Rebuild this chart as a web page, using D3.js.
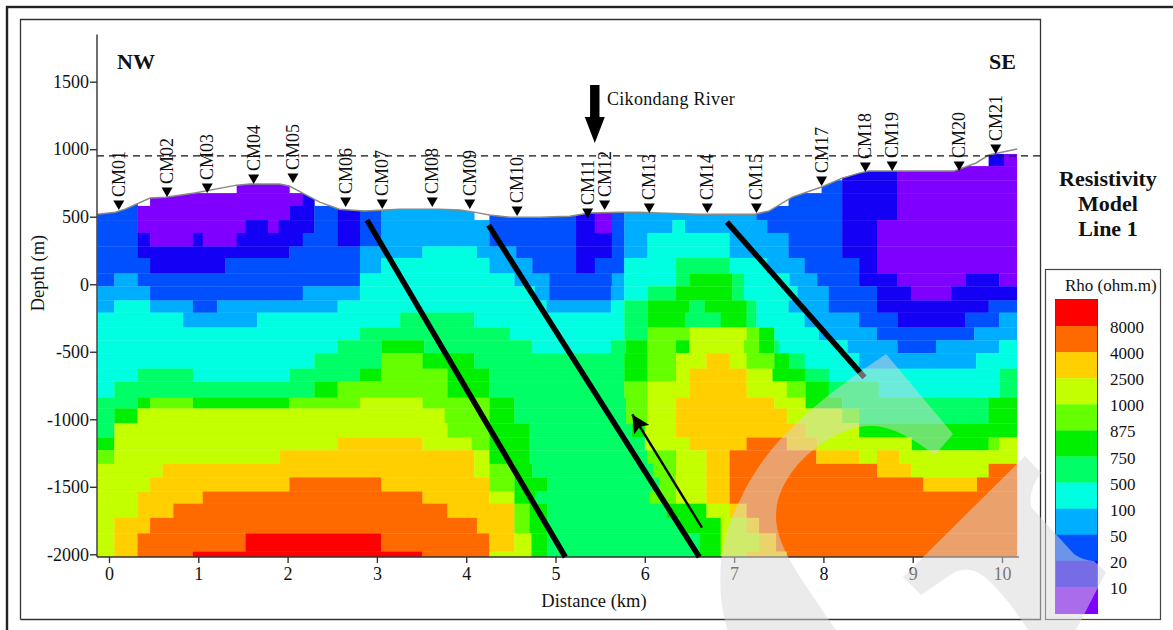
<!DOCTYPE html>
<html>
<head>
<meta charset="utf-8">
<script src="https://cdn.jsdelivr.net/npm/d3@7"></script>
<style>
  body { margin: 0; background: #fff; }
  svg { display: block; }
  text { font-family: "Liberation Serif", serif; fill: #111; }
</style>
</head>
<body>
<script>
// resistivity classes, low to high (legend runs top = high)
var classColors = ["#7f00ff", "#1400f5", "#0050ff", "#00aeff", "#00ffe0", "#00ff66", "#00f000", "#66ff00", "#c4ff00", "#ffcf00", "#ff6a00", "#ff0000"];
var rhoLabels = ["8000", "4000", "2500", "1000", "875", "750", "500", "100", "50", "20", "10"];

var depthTicks = [1500, 1000, 500, 0, -500, -1000, -1500, -2000];
var distanceTicks = [0, 1, 2, 3, 4, 5, 6, 7, 8, 9, 10];

// row edges of the model blocks (m)
var rowEdges = [965, 875, 770, 675, 580, 475, 380, 280, 195, 80, -15, -120, -210, -320, -415, -510, -625, -720, -840, -920, -1030, -1135, -1230, -1330, -1430, -1535, -1625, -1730, -1845, -1980, -2020];

// one string per row: class:endKm, a=10 b=11, - is no data
var rowRuns = [
  "-:9.85 1:10.02 0:10.17",
  "-:8.21 1:8.83 0:10.17",
  "-:1.43 0:2.02 -:7.98 2:8.21 1:8.83 0:10.17",
  "2:0.32 -:0.46 0:2.17 1:2.30 -:7.61 2:8.21 1:8.83 0:10.17",
  "2:0.32 0:2.02 1:2.30 2:2.56 1:2.81 2:3.05 3:4.09 -:4.26 2:5.23 1:5.44 0:5.63 2:5.77 3:7.25 2:8.21 1:8.83 0:10.17",
  "2:0.32 0:1.53 1:1.78 0:1.90 1:2.30 2:2.56 1:2.81 2:3.05 3:4.26 2:5.23 1:5.44 0:5.63 2:5.77 3:6.31 4:6.45 3:7.37 2:8.21 1:8.60 0:10.17",
  "2:0.32 1:0.46 0:0.94 1:1.05 0:1.43 1:2.17 2:2.56 1:2.81 2:3.05 3:4.26 2:5.23 1:5.63 2:5.77 3:6.03 4:6.95 3:7.61 2:8.21 1:8.60 0:10.17",
  "2:0.32 1:2.02 2:2.81 3:3.51 4:4.12 3:4.56 2:5.23 1:5.63 2:5.77 3:6.03 4:6.95 3:7.61 2:8.21 1:8.60 0:10.17",
  "2:0.46 1:1.30 2:2.81 3:3.05 4:4.26 3:4.74 2:5.23 1:5.44 2:5.77 4:6.35 5:6.95 4:7.37 3:7.79 2:8.40 1:8.60 0:10.17",
  "2:0.06 3:0.32 2:2.81 4:4.54 3:4.93 2:5.63 3:5.77 4:6.35 5:6.50 6:6.98 5:7.11 4:7.62 3:7.93 2:8.40 1:8.83 0:9.59 1:9.97 0:10.17",
  "3:0.46 2:2.17 3:2.81 4:4.77 3:4.93 2:5.62 3:5.77 4:6.03 5:6.35 6:6.98 5:7.11 4:7.71 3:8.06 2:8.60 1:8.98 0:9.43 1:10.17",
  "3:0.06 4:0.46 3:0.94 2:1.21 3:2.56 4:4.90 3:5.62 4:5.77 5:6.03 6:6.50 5:6.67 6:7.14 5:7.25 4:7.61 3:8.06 2:8.60 1:9.85 2:10.17",
  "4:0.83 3:1.66 4:3.26 5:4.09 4:5.77 5:6.03 6:6.45 5:6.85 6:7.14 5:7.25 4:7.79 3:8.40 2:8.83 1:9.59 2:9.97 3:10.17",
  "4:2.81 5:4.49 4:5.77 5:6.03 7:6.50 8:7.14 7:7.28 6:7.45 4:7.95 3:8.60 2:9.69 3:10.17",
  "4:2.56 5:3.05 6:3.53 5:4.74 4:5.62 5:5.79 6:6.03 7:6.35 6:6.50 8:7.11 7:7.28 6:7.45 5:7.50 4:8.27 3:8.83 2:9.26 3:9.97 4:10.17",
  "4:2.30 5:3.05 7:3.51 6:4.09 5:5.77 6:6.03 7:6.35 8:6.69 9:6.95 8:7.14 7:7.45 6:7.62 5:7.79 4:8.40 3:9.71 4:10.17",
  "4:0.32 5:0.94 4:2.02 5:2.81 6:3.05 7:3.79 6:4.26 5:5.77 6:6.03 7:6.35 8:6.50 9:7.14 8:7.43 6:7.80 5:8.06 4:9.97 5:10.17",
  "4:0.06 5:2.30 6:2.56 7:3.79 6:4.26 5:5.77 7:6.03 8:6.50 9:7.14 8:7.59 7:7.80 6:8.06 5:8.62 4:9.97 5:10.17",
  "5:0.32 6:0.46 7:0.94 6:2.02 7:2.81 8:3.51 7:4.26 6:4.54 5:5.79 7:6.03 8:6.35 9:7.45 8:7.80 6:8.21 5:9.85 6:10.17",
  "5:0.06 6:0.32 8:3.76 7:4.26 6:4.54 5:5.79 7:6.03 8:6.35 9:7.59 8:8.21 7:8.40 5:9.85 6:10.17",
  "5:0.06 8:3.79 7:4.26 6:4.71 5:5.85 6:6.00 8:6.35 9:7.80 8:8.40 6:10.17",
  "6:0.06 8:2.56 9:3.51 8:4.06 7:4.26 6:4.71 5:6.00 8:6.50 9:7.14 a:7.59 9:7.93 8:8.99 6:9.85 7:9.97 8:10.17",
  "7:0.06 8:1.91 9:4.09 8:4.26 6:4.71 5:6.03 7:6.35 8:6.69 9:6.95 a:7.92 9:8.40 8:8.60 9:8.85 8:10.17",
  "8:0.60 9:4.09 8:4.26 7:4.54 6:4.74 5:6.09 7:6.35 8:6.69 9:6.95 a:8.60 9:8.98 8:9.85 a:10.17",
  "8:0.46 9:2.02 a:3.05 9:4.26 7:4.54 6:4.91 5:6.16 7:6.35 8:6.69 9:6.95 a:9.12 9:9.72 a:10.17",
  "8:0.32 9:1.05 a:3.51 9:4.26 8:4.54 6:4.77 5:6.05 7:6.35 8:6.69 9:6.95 a:10.17",
  "8:0.32 9:0.72 a:3.79 9:4.54 7:4.71 6:4.91 5:6.24 6:6.69 8:6.95 9:7.14 a:10.17",
  "8:0.06 9:0.46 a:4.12 9:4.54 7:4.71 6:4.91 5:6.39 6:6.85 8:7.14 9:7.28 a:10.17",
  "8:0.06 9:0.32 a:1.53 b:3.05 a:4.26 9:4.54 8:4.73 6:4.91 5:6.61 6:6.85 8:7.28 9:7.47 a:10.17",
  "8:0.06 9:0.32 a:0.94 b:3.51 a:4.26 8:4.73 6:4.91 5:6.61 6:6.85 8:7.14 9:7.59 a:10.17"
];

// ground surface
var terrainKm = [-0.13, 0.07, 0.18, 0.46, 0.63, 0.96, 1.43, 1.58, 1.91, 2.02, 2.19, 2.36, 2.58, 2.86, 3.25, 3.70, 3.93, 4.09, 4.26, 4.49, 4.82, 5.16, 5.38, 5.72, 5.94, 6.16, 6.61, 7.23, 7.39, 7.65, 7.98, 8.21, 8.40, 8.51, 9.46, 9.71, 9.85, 10.17];
var terrainElev = [519, 534, 556, 638, 645, 675, 734, 742, 742, 727, 668, 608, 556, 542, 556, 556, 549, 534, 512, 497, 497, 504, 527, 534, 534, 527, 519, 519, 542, 645, 720, 786, 823, 838, 838, 898, 957, 1001];

// stations
var stationNames = ["CM01", "CM02", "CM03", "CM04", "CM05", "CM06", "CM07", "CM08", "CM09", "CM10", "CM11", "CM12", "CM13", "CM14", "CM15", "CM17", "CM18", "CM19", "CM20", "CM21"];
var stationKm = [0.11, 0.65, 1.10, 1.62, 2.06, 2.65, 3.06, 3.62, 4.04, 4.57, 5.36, 5.55, 6.05, 6.70, 7.25, 7.98, 8.47, 8.77, 9.52, 9.93];
var stationElev = [550, 646, 676, 742, 750, 572, 557, 572, 557, 505, 490, 550, 527, 527, 527, 727, 831, 838, 838, 964];

// interpreted faults, [km, m] ends
var faults = [
  [[2.89, 475], [5.11, -2020]],
  [[4.25, 438], [6.61, -2020]],
  [[6.92, 460], [8.46, -690]]
];

var svg = d3.select("body").append("svg")
    .attr("width", 1173)
    .attr("height", 630);

var x = d3.scaleLinear().domain([0, 10]).range([109, 1002]);
var y = d3.scaleLinear().domain([1500, -2000]).range([81.7, 554.3]);
var xLeft = x.invert(97);

// frames
svg.append("rect").attr("x", 7).attr("y", 7).attr("width", 1200).attr("height", 700)
    .attr("fill", "none").attr("stroke", "#222").attr("stroke-width", 2.4);
svg.append("path").attr("d", "M20.5,619.5V19.5H1040.5V619.5H20.5")
    .attr("fill", "none").attr("stroke", "#333").attr("stroke-width", 1.3);
svg.append("rect").attr("x", 1045.5).attr("y", 269.5).attr("width", 115).attr("height", 350)
    .attr("fill", "#fff").attr("stroke", "#444").attr("stroke-width", 1.2);

// model blocks, cut at the surface
var terrainArea = d3.area()
    .x(function(d) { return x(d[0]); })
    .y0(y(-2020))
    .y1(function(d) { return y(d[1]); });
var terrainPts = d3.zip(terrainKm, terrainElev);

svg.append("clipPath").attr("id", "ground")
  .append("path").attr("d", terrainArea(terrainPts));

var cells = [];
rowRuns.forEach(function(row, i) {
  var start = xLeft;
  row.split(" ").forEach(function(run) {
    var parts = run.split(":");
    var end = +parts[1];
    if (parts[0] !== "-") {
      cells.push({ cls: parseInt(parts[0], 16), x0: start, x1: end, top: rowEdges[i], bottom: rowEdges[i + 1] });
    }
    start = end;
  });
});

svg.append("g").attr("clip-path", "url(#ground)")
  .selectAll("rect")
  .data(cells)
  .enter()
  .append("rect")
    .attr("x", function(d) { return x(d.x0); })
    .attr("y", function(d) { return y(d.top); })
    .attr("width", function(d) { return x(d.x1) - x(d.x0) + 0.3; })
    .attr("height", function(d) { return y(d.bottom) - y(d.top) + 0.3; })
    .attr("fill", function(d) { return classColors[d.cls]; });

svg.append("path")
    .attr("d", d3.line().x(function(d) { return x(d[0]); }).y(function(d) { return y(d[1]); })(terrainPts))
    .attr("fill", "none").attr("stroke", "#8a8a8a").attr("stroke-width", 1.5);

// reference level
svg.append("line")
    .attr("x1", 97).attr("x2", 1040)
    .attr("y1", y(950)).attr("y2", y(950))
    .attr("stroke", "#111").attr("stroke-width", 1.2).attr("stroke-dasharray", "7,5");

// axes, plain hyphen on the negatives
var yAxis = svg.append("g").attr("transform", "translate(97,0)")
    .call(d3.axisLeft(y).tickValues(depthTicks).tickSize(7).tickPadding(1).tickFormat(String));
var xAxis = svg.append("g").attr("transform", "translate(0," + 557 + ")")
    .call(d3.axisBottom(x).tickValues(distanceTicks).tickSize(6).tickPadding(4).tickFormat(String));
yAxis.select(".domain").attr("d", "M0,34.5V557");
xAxis.select(".domain").attr("d", "M97,0H1019");
[xAxis, yAxis].forEach(function(a) {
  a.selectAll(".domain,.tick line").attr("stroke", "#333").attr("stroke-width", 1.4);
  a.selectAll("text").style("font-family", '"Liberation Serif", serif').style("font-size", "18px").attr("fill", "#111");
});

svg.append("text").attr("x", 594).attr("y", 607).attr("text-anchor", "middle")
    .style("font-size", "18.5px").text("Distance (km)");
svg.append("text").attr("transform", "translate(44,273) rotate(-90)").attr("text-anchor", "middle")
    .style("font-size", "18.5px").text("Depth (m)");

// faults
svg.selectAll(".fault")
    .data(faults)
    .enter()
    .append("line")
    .attr("class", "fault")
    .attr("x1", function(d) { return x(d[0][0]); })
    .attr("y1", function(d) { return y(d[0][1]); })
    .attr("x2", function(d) { return x(d[1][0]); })
    .attr("y2", function(d) { return y(d[1][1]); })
    .attr("stroke", "#000").attr("stroke-width", 5.5);

// flow arrow
svg.append("defs").append("marker").attr("id", "head")
    .attr("viewBox", "0 0 10 10").attr("refX", 10).attr("refY", 5)
    .attr("markerWidth", 7.5).attr("markerHeight", 7.5).attr("markerUnits", "strokeWidth")
    .attr("orient", "auto")
  .append("path").attr("d", "M0,0L10,5L0,10L2,5Z").attr("fill", "#000");
svg.append("line")
    .attr("x1", x(6.64)).attr("y1", y(-1803))
    .attr("x2", x(5.86)).attr("y2", y(-964))
    .attr("stroke", "#000").attr("stroke-width", 2.4).attr("marker-end", "url(#head)");

// river arrow
var riverKm = 5.44;
svg.append("path")
    .attr("d", "M" + (x(riverKm) - 4.7) + "," + y(1476) + "V" + y(1239) + "H" + (x(riverKm) - 10) +
      "L" + x(riverKm) + "," + y(1046) + "L" + (x(riverKm) + 10) + "," + y(1239) + "H" + (x(riverKm) + 4.7) + "V" + y(1476) + "Z")
    .attr("fill", "#000");
svg.append("text").attr("x", 607).attr("y", 105)
    .style("font-size", "18px").style("letter-spacing", "0.3px").text("Cikondang River");

// stations
var stations = d3.zip(stationNames, stationKm, stationElev);
svg.selectAll(".st")
    .data(stations)
    .enter()
    .append("path")
    .attr("class", "st")
    .attr("d", function(d) {
      var px = x(d[1]), py = y(d[2]);
      return "M" + px + "," + py + "L" + (px - 5.5) + "," + (py - 9.5) + "H" + (px + 5.5) + "Z";
    })
    .attr("fill", "#000");
svg.selectAll(".stLabel")
    .data(stations)
    .enter()
    .append("text")
    .attr("class", "stLabel")
    .attr("transform", function(d) { return "translate(" + (x(d[1]) + 6) + "," + (y(d[2]) - 13) + ") rotate(-90)"; })
    .style("font-size", "18px")
    .text(function(d) { return d[0]; });

// titles
svg.append("text").attr("x", 117).attr("y", 69).style("font-size", "22px").style("font-weight", "bold").text("NW");
svg.append("text").attr("x", 989).attr("y", 69).style("font-size", "22px").style("font-weight", "bold").text("SE");
["Resistivity", "Model", "Line 1"].forEach(function(t, i) {
  svg.append("text").attr("x", 1108).attr("y", 186 + i * 25).attr("text-anchor", "middle")
      .style("font-size", "22px").style("font-weight", "bold").text(t);
});

// legend
var legendClasses = d3.range(classColors.length).reverse();
var legendY = d3.scaleBand().domain(legendClasses).range([300, 613]);
svg.append("text").attr("x", 1065).attr("y", 291).style("font-size", "17px").text("Rho (ohm.m)");
svg.selectAll(".swatch")
    .data(legendClasses)
    .enter()
    .append("rect")
    .attr("class", "swatch")
    .attr("x", 1056).attr("width", 41)
    .attr("y", function(d) { return legendY(d); })
    .attr("height", legendY.bandwidth() + 0.3)
    .attr("fill", function(d) { return classColors[d]; });
svg.append("rect").attr("x", 1055.5).attr("y", 299.5).attr("width", 42).attr("height", 314)
    .attr("fill", "none").attr("stroke", "#444").attr("stroke-width", 1);
svg.selectAll(".rhoLabel")
    .data(rhoLabels)
    .enter()
    .append("text")
    .attr("class", "rhoLabel")
    .attr("x", 1110)
    .attr("y", function(d, i) { return legendY(legendClasses[i + 1]) + 7; })
    .style("font-size", "17px")
    .text(function(d) { return d; });

// watermark lies over everything
svg.append("path")
    .attr("d", "M886,354L953,434L935,455C905,432 885,425 868,426C830,428 776,470 776,517C776,550 810,590 837,632L728,632C715,590 718,540 740,500C765,445 810,405 886,354Z" +
      "M1025,456L1041,473Q1028,490 1031,507L1074,554Q1082,560 1094,561L1106,572L1075,632L1029,632Q1010,600 985,577Q970,565 955,572L921,595L903,577Z")
    .attr("fill", "#d8d8d8").attr("fill-opacity", 0.5);
</script>
</body>
</html>
